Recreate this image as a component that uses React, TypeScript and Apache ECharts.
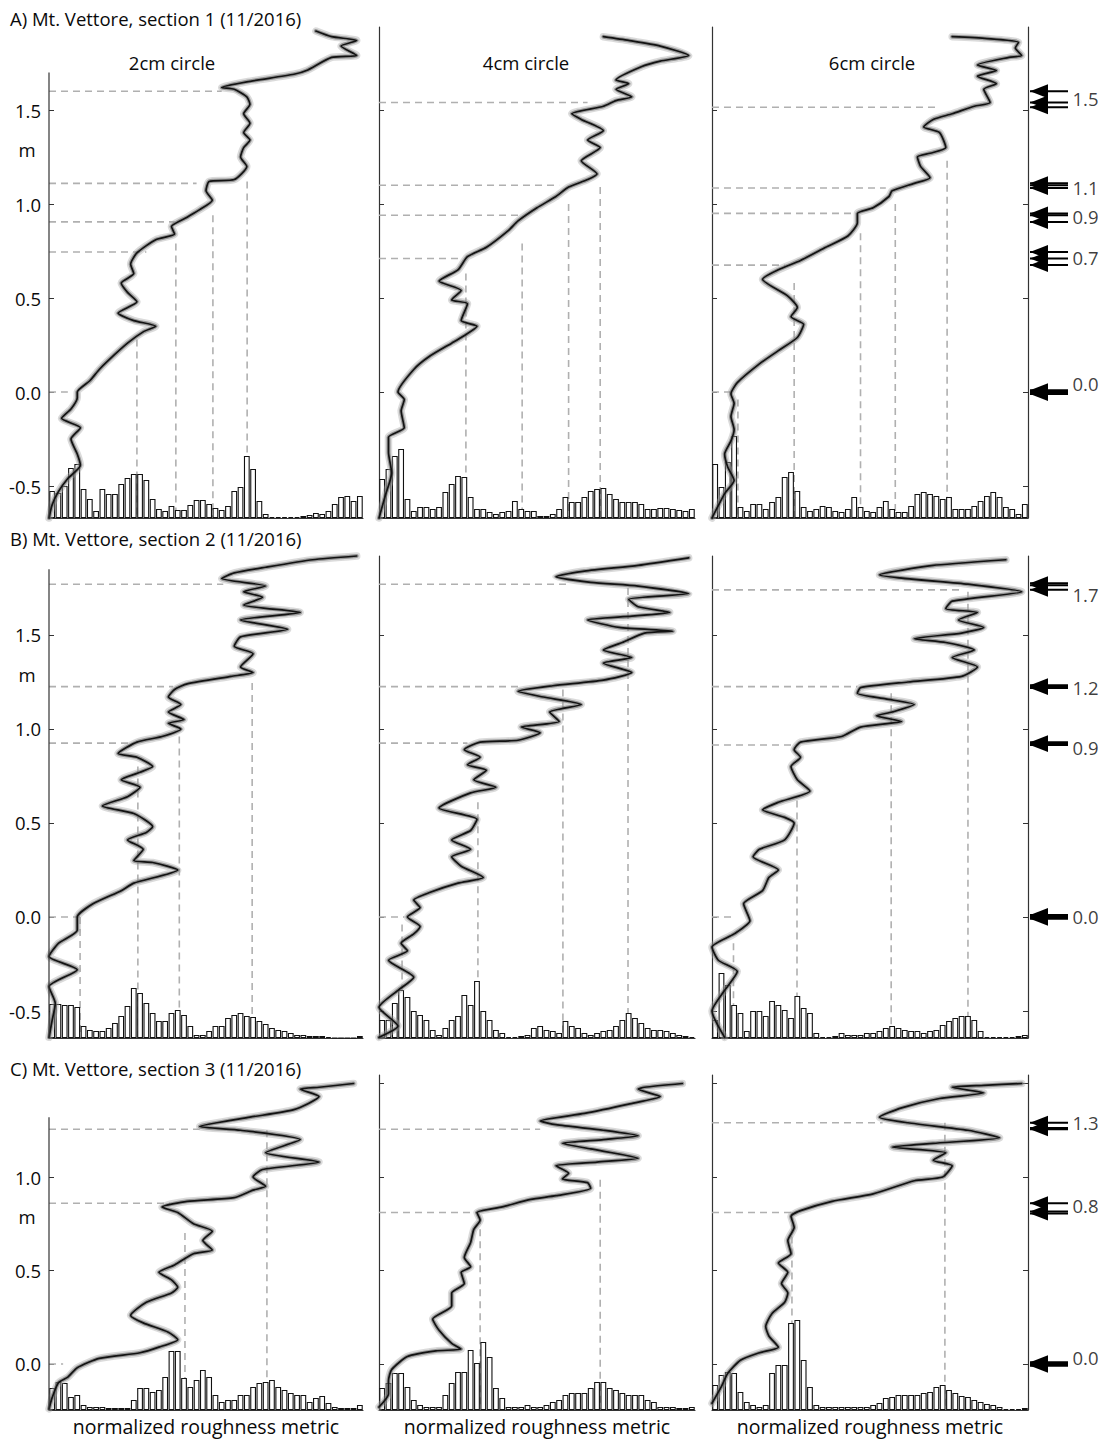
import React, { useEffect, useRef } from "react";
import * as echarts from "echarts";

// ---------- texts ----------
const ROW_TITLES = [
  "A) Mt. Vettore, section 1 (11/2016)",
  "B) Mt. Vettore, section 2 (11/2016)",
  "C) Mt. Vettore, section 3 (11/2016)",
];
const CIRCLE_TITLES = ["2cm circle", "4cm circle", "6cm circle"];
const X_LABEL = "normalized roughness metric";
const Y_UNIT = "m";

// ---------- axes ----------
const ROW_Y_RANGE = [
  [-0.67, 1.9415],
  [-0.6436, 1.92],
  [-0.246, 1.5455],
];
const ROW_TICKS = [
  [-0.5, 0, 0.5, 1, 1.5],
  [-0.5, 0, 0.5, 1, 1.5],
  [0, 0.5, 1, 1.5],
];
const COL1_AXIS_TOP = [1.7, 1.85, 1.32];
const COL1_LABELS = [
  [-0.5, 0, 0.5, 1, 1.5],
  [-0.5, 0, 0.5, 1, 1.5],
  [0, 0.5, 1],
];
const UNIT_AT = [1.29, 1.29, 0.79];

// ---------- curves: [roughness, height m] ----------
const CURVE_A1 = [[0.00,-0.67],[0.01,-0.60],[0.03,-0.53],[0.06,-0.46],[0.10,-0.39],[0.09,-0.33],[0.07,-0.25],[0.10,-0.19],[0.04,-0.14],[0.07,-0.09],[0.09,-0.03],[0.09,0.00],[0.13,0.06],[0.16,0.12],[0.19,0.17],[0.25,0.26],[0.30,0.32],[0.34,0.35],[0.27,0.38],[0.22,0.42],[0.28,0.48],[0.25,0.53],[0.23,0.58],[0.27,0.63],[0.26,0.68],[0.28,0.74],[0.34,0.81],[0.40,0.84],[0.39,0.88],[0.44,0.93],[0.48,0.97],[0.52,1.02],[0.50,1.07],[0.51,1.12],[0.59,1.13],[0.63,1.20],[0.61,1.25],[0.62,1.30],[0.64,1.34],[0.62,1.38],[0.64,1.43],[0.62,1.48],[0.64,1.53],[0.63,1.57],[0.59,1.61],[0.55,1.62],[0.63,1.65],[0.78,1.69],[0.82,1.71],[0.90,1.78],[0.98,1.79],[0.93,1.84],[0.98,1.87],[0.90,1.89],[0.85,1.92]];
const CURVE_A2 = [[0.00,-0.67],[0.02,-0.55],[0.04,-0.43],[0.03,-0.32],[0.03,-0.24],[0.08,-0.19],[0.07,-0.10],[0.08,-0.04],[0.06,0.00],[0.11,0.12],[0.16,0.19],[0.23,0.26],[0.26,0.29],[0.31,0.35],[0.26,0.38],[0.28,0.47],[0.23,0.49],[0.26,0.54],[0.19,0.59],[0.25,0.65],[0.28,0.72],[0.34,0.77],[0.41,0.86],[0.44,0.91],[0.50,0.98],[0.56,1.04],[0.60,1.09],[0.66,1.13],[0.69,1.16],[0.64,1.23],[0.70,1.30],[0.66,1.34],[0.71,1.39],[0.64,1.45],[0.61,1.48],[0.71,1.52],[0.75,1.55],[0.80,1.57],[0.75,1.61],[0.79,1.64],[0.75,1.66],[0.83,1.73],[0.89,1.76],[0.98,1.79],[0.89,1.84],[0.79,1.87],[0.71,1.89]];
const CURVE_A3 = [[0.00,-0.67],[0.04,-0.54],[0.07,-0.47],[0.05,-0.40],[0.04,-0.33],[0.06,-0.26],[0.07,-0.20],[0.06,-0.13],[0.07,-0.06],[0.06,-0.01],[0.08,0.05],[0.15,0.15],[0.21,0.22],[0.27,0.29],[0.29,0.36],[0.25,0.40],[0.27,0.45],[0.24,0.51],[0.16,0.60],[0.21,0.65],[0.28,0.70],[0.36,0.77],[0.43,0.83],[0.46,0.90],[0.46,0.95],[0.51,0.98],[0.56,1.04],[0.57,1.07],[0.64,1.11],[0.69,1.14],[0.66,1.20],[0.65,1.25],[0.69,1.27],[0.74,1.30],[0.72,1.38],[0.67,1.41],[0.70,1.45],[0.76,1.48],[0.83,1.52],[0.88,1.54],[0.86,1.61],[0.90,1.64],[0.84,1.68],[0.90,1.71],[0.84,1.74],[0.94,1.78],[0.98,1.79],[0.96,1.83],[0.97,1.86],[0.87,1.88],[0.76,1.89]];
const CURVE_B1 = [[0.00,-0.64],[0.01,-0.55],[0.02,-0.46],[0.00,-0.37],[0.09,-0.28],[0.00,-0.21],[0.03,-0.14],[0.09,-0.07],[0.09,0.00],[0.14,0.07],[0.23,0.14],[0.27,0.18],[0.41,0.25],[0.33,0.29],[0.27,0.30],[0.30,0.36],[0.25,0.41],[0.31,0.45],[0.33,0.48],[0.27,0.55],[0.17,0.59],[0.25,0.64],[0.29,0.69],[0.23,0.73],[0.29,0.77],[0.33,0.80],[0.28,0.85],[0.22,0.87],[0.28,0.93],[0.36,0.96],[0.42,1.00],[0.38,1.03],[0.43,1.05],[0.38,1.09],[0.42,1.13],[0.38,1.17],[0.40,1.21],[0.44,1.24],[0.58,1.28],[0.65,1.30],[0.61,1.33],[0.65,1.40],[0.59,1.44],[0.61,1.49],[0.76,1.53],[0.61,1.58],[0.80,1.62],[0.62,1.66],[0.68,1.70],[0.62,1.73],[0.69,1.76],[0.55,1.80],[0.59,1.83],[0.69,1.86],[0.84,1.90],[0.98,1.92]];
const CURVE_B2 = [[0.00,-0.64],[0.06,-0.58],[0.00,-0.48],[0.06,-0.39],[0.11,-0.32],[0.03,-0.23],[0.09,-0.18],[0.07,-0.14],[0.11,-0.09],[0.13,-0.05],[0.09,0.00],[0.13,0.05],[0.11,0.09],[0.16,0.13],[0.25,0.18],[0.33,0.21],[0.26,0.27],[0.23,0.32],[0.29,0.36],[0.23,0.41],[0.29,0.46],[0.31,0.52],[0.19,0.58],[0.29,0.66],[0.37,0.69],[0.30,0.73],[0.34,0.78],[0.28,0.81],[0.32,0.85],[0.27,0.89],[0.32,0.93],[0.44,0.94],[0.51,0.98],[0.45,1.01],[0.57,1.04],[0.54,1.09],[0.64,1.13],[0.52,1.17],[0.44,1.20],[0.55,1.23],[0.71,1.26],[0.80,1.30],[0.71,1.35],[0.80,1.38],[0.71,1.42],[0.77,1.46],[0.84,1.51],[0.93,1.52],[0.76,1.54],[0.66,1.58],[0.80,1.60],[0.92,1.62],[0.82,1.65],[0.79,1.69],[0.98,1.72],[0.82,1.76],[0.67,1.78],[0.56,1.81],[0.65,1.84],[0.82,1.87],[0.98,1.91]];
const CURVE_B3 = [[0.04,-0.64],[0.00,-0.50],[0.04,-0.39],[0.08,-0.29],[0.02,-0.23],[0.00,-0.16],[0.07,-0.09],[0.12,-0.02],[0.10,0.07],[0.16,0.14],[0.18,0.21],[0.21,0.25],[0.13,0.32],[0.15,0.36],[0.23,0.41],[0.26,0.50],[0.23,0.53],[0.16,0.57],[0.21,0.61],[0.31,0.67],[0.27,0.73],[0.25,0.80],[0.28,0.85],[0.26,0.89],[0.28,0.93],[0.41,0.96],[0.47,1.01],[0.60,1.04],[0.52,1.07],[0.57,1.09],[0.64,1.13],[0.55,1.16],[0.46,1.19],[0.47,1.22],[0.62,1.25],[0.79,1.28],[0.84,1.33],[0.76,1.38],[0.83,1.42],[0.74,1.46],[0.64,1.48],[0.79,1.51],[0.86,1.54],[0.78,1.58],[0.84,1.62],[0.74,1.64],[0.76,1.68],[0.98,1.73],[0.81,1.77],[0.53,1.82],[0.70,1.87],[0.93,1.90]];
const CURVE_C1 = [[0.00,-0.24],[0.01,-0.18],[0.03,-0.10],[0.06,-0.07],[0.09,-0.02],[0.16,0.03],[0.29,0.06],[0.35,0.09],[0.41,0.13],[0.38,0.17],[0.30,0.22],[0.26,0.26],[0.31,0.33],[0.39,0.38],[0.41,0.41],[0.39,0.45],[0.35,0.49],[0.40,0.53],[0.46,0.59],[0.52,0.61],[0.49,0.66],[0.52,0.71],[0.46,0.75],[0.41,0.81],[0.36,0.84],[0.44,0.87],[0.59,0.89],[0.65,0.93],[0.69,0.95],[0.65,1.00],[0.68,1.04],[0.86,1.08],[0.69,1.13],[0.80,1.20],[0.61,1.25],[0.48,1.27],[0.64,1.32],[0.78,1.36],[0.86,1.43],[0.80,1.47],[0.86,1.48],[0.97,1.50]];
const CURVE_C2 = [[0.00,-0.23],[0.03,-0.16],[0.03,-0.09],[0.04,-0.03],[0.09,0.04],[0.18,0.07],[0.26,0.08],[0.23,0.11],[0.19,0.18],[0.17,0.24],[0.23,0.31],[0.23,0.38],[0.27,0.43],[0.26,0.49],[0.29,0.52],[0.27,0.57],[0.29,0.65],[0.30,0.72],[0.32,0.77],[0.31,0.81],[0.39,0.84],[0.48,0.88],[0.56,0.90],[0.67,0.94],[0.66,0.97],[0.58,0.99],[0.60,1.02],[0.56,1.06],[0.69,1.08],[0.82,1.10],[0.67,1.15],[0.58,1.18],[0.71,1.20],[0.82,1.22],[0.71,1.25],[0.56,1.28],[0.51,1.30],[0.65,1.34],[0.79,1.39],[0.89,1.43],[0.82,1.47],[0.84,1.48],[0.96,1.50]];
const CURVE_C3 = [[0.00,-0.21],[0.03,-0.12],[0.05,-0.05],[0.09,0.02],[0.15,0.06],[0.21,0.09],[0.18,0.15],[0.17,0.20],[0.19,0.27],[0.23,0.33],[0.24,0.38],[0.22,0.43],[0.24,0.49],[0.21,0.54],[0.25,0.59],[0.24,0.66],[0.26,0.73],[0.25,0.79],[0.28,0.82],[0.38,0.87],[0.51,0.91],[0.64,0.98],[0.73,1.00],[0.76,1.06],[0.70,1.09],[0.74,1.13],[0.57,1.16],[0.70,1.18],[0.91,1.21],[0.81,1.25],[0.62,1.29],[0.53,1.32],[0.60,1.37],[0.72,1.42],[0.86,1.45],[0.76,1.48],[0.86,1.49],[0.98,1.50]];

// ---------- histograms (50 bins, relative frequency) ----------
const HIST_A1 = [27,25,32,50,54,29,19,7,29,24,24,34,40,44,44,38,19,9,7,12,8,8,13,18,18,14,10,8,12,27,31,62,49,17,4,1,1,1,1,1,2,3,5,4,7,14,21,22,17,22];
const HIST_A2 = [39,49,62,69,19,7,11,11,9,11,26,34,42,41,21,9,9,6,4,6,7,17,9,7,7,2,2,4,9,21,16,16,21,27,29,30,24,19,16,16,16,14,9,9,10,10,9,8,7,9];
const HIST_A3 = [54,31,56,82,11,7,14,14,9,16,21,41,46,27,11,7,9,12,11,7,6,9,21,11,7,6,11,17,9,6,6,12,24,26,24,22,19,21,9,9,9,12,17,22,26,21,11,9,4,14];
const HIST_B1 = [34,34,33,33,31,12,8,7,7,10,15,22,32,50,45,35,25,17,17,25,28,23,12,3,3,7,12,12,20,23,25,22,21,17,14,10,8,7,5,3,3,2,2,2,1,0,0,0,0,2];
const HIST_B2 = [18,18,35,48,41,27,23,18,8,3,10,18,22,43,33,57,27,18,8,5,1,1,2,3,10,12,8,7,5,17,12,10,5,3,5,7,8,12,18,25,20,15,10,8,8,7,5,3,2,1];
const HIST_B3 = [18,65,53,33,25,7,27,27,22,37,33,28,20,42,30,25,5,1,1,2,5,3,3,3,5,5,7,10,12,10,8,7,7,5,7,8,13,17,20,22,22,18,7,1,1,1,1,1,2,3];
const HIST_C1 = [22,28,27,13,15,5,3,3,3,2,2,2,2,10,22,22,18,20,33,59,59,32,23,30,40,33,15,8,10,10,15,15,23,27,28,30,23,20,17,15,15,8,12,14,7,3,2,2,2,5];
const HIST_C2 = [22,27,37,37,23,10,5,3,3,3,15,27,38,38,60,47,68,53,22,12,3,3,3,5,3,3,5,8,10,15,17,17,17,22,28,28,22,20,17,15,15,15,10,8,3,3,3,2,2,3];
const HIST_C3 = [25,35,38,37,18,8,5,3,5,37,45,45,87,90,50,23,5,3,3,3,3,3,3,3,3,5,7,12,13,15,15,15,15,17,18,23,25,20,17,14,13,10,8,6,5,3,1,1,1,2];

// ---------- dashed guides: horizontal [height, roughness end], vertical [roughness, height top] ----------
const HLINES_A1 = [[1.60,0.55],[1.11,0.47],[0.905,0.40],[0.745,0.31],[0.0,0.06]];
const VLINES_A1 = [[0.28,0.28],[0.404,0.79],[0.522,0.94],[0.631,1.12]];
const HLINES_A2 = [[1.54,0.66],[1.10,0.57],[0.94,0.45],[0.71,0.25]];
const VLINES_A2 = [[0.275,0.63],[0.453,0.79],[0.60,1.0],[0.70,1.09]];
const HLINES_A3 = [[1.515,0.72],[1.085,0.55],[0.95,0.45],[0.675,0.23],[0.0,0.06]];
const VLINES_A3 = [[0.082,-0.04],[0.26,0.58],[0.47,0.845],[0.58,1.0],[0.744,1.23]];
const HLINES_B1 = [[1.77,0.555],[1.225,0.395],[0.925,0.27],[0.0,0.10]];
const VLINES_B1 = [[0.099,0.0],[0.283,0.80],[0.415,0.96],[0.647,1.245]];
const HLINES_B2 = [[1.77,0.60],[1.225,0.45],[0.925,0.28],[0.0,0.08]];
const VLINES_B2 = [[0.073,-0.04],[0.313,0.61],[0.582,1.21],[0.788,1.75]];
const HLINES_B3 = [[1.74,0.785],[1.225,0.46],[0.915,0.27],[0.0,0.07]];
const VLINES_B3 = [[0.068,-0.14],[0.269,0.62],[0.567,1.19],[0.81,1.73]];
const HLINES_C1 = [[1.255,0.48],[0.86,0.385],[0.0,0.045]];
const VLINES_C1 = [[0.433,0.70],[0.694,1.25]];
const HLINES_C2 = [[1.255,0.51],[0.81,0.31]];
const VLINES_C2 = [[0.32,0.785],[0.70,0.985]];
const HLINES_C3 = [[1.29,0.54],[0.81,0.25]];
const VLINES_C3 = [[0.253,0.81],[0.737,1.29]];

// ---------- arrows at right: label, label height, arrow heights ----------
const ARROWS_A = [
  { label: "1.5", at: 1.56, ys: [1.60, 1.54, 1.515] },
  { label: "1.1", at: 1.09, ys: [1.11, 1.10, 1.085] },
  { label: "0.9", at: 0.936, ys: [0.905, 0.94, 0.95] },
  { label: "0.7", at: 0.718, ys: [0.745, 0.71, 0.675] },
  { label: "0.0", at: 0.048, ys: [0.01, 0.0, -0.01] },
];
const ARROWS_B = [
  { label: "1.7", at: 1.713, ys: [1.775, 1.765, 1.74] },
  { label: "1.2", at: 1.223, ys: [1.232, 1.225, 1.218] },
  { label: "0.9", at: 0.899, ys: [0.93, 0.922, 0.915] },
  { label: "0.0", at: 0.0, ys: [0.01, 0.0, -0.01] },
];
const ARROWS_C = [
  { label: "1.3", at: 1.294, ys: [1.262, 1.255, 1.29] },
  { label: "0.8", at: 0.85, ys: [0.86, 0.815, 0.805] },
  { label: "0.0", at: 0.037, ys: [0.01, 0.0, -0.01] },
];

const CURVES = [CURVE_A1, CURVE_A2, CURVE_A3, CURVE_B1, CURVE_B2, CURVE_B3, CURVE_C1, CURVE_C2, CURVE_C3];
const HISTS = [HIST_A1, HIST_A2, HIST_A3, HIST_B1, HIST_B2, HIST_B3, HIST_C1, HIST_C2, HIST_C3];
const HLINES = [HLINES_A1, HLINES_A2, HLINES_A3, HLINES_B1, HLINES_B2, HLINES_B3, HLINES_C1, HLINES_C2, HLINES_C3];
const VLINES = [VLINES_A1, VLINES_A2, VLINES_A3, VLINES_B1, VLINES_B2, VLINES_B3, VLINES_C1, VLINES_C2, VLINES_C3];
const ARROWS = [ARROWS_A, ARROWS_B, ARROWS_C];
const BINS = HIST_A1.map((_, i) => String(i));

// ---------- layout ----------
const ROW_BOX = [
  { top: 27, height: 491 },
  { top: 556, height: 482 },
  { top: 1075, height: 335 },
];
const COL_BOX = [
  { left: 49, width: 314 },
  { left: 379, width: 316 },
  { left: 712, width: 316 },
];
const ROW_TITLE_Y = [18, 538, 1068];
const FONT = "'Open Sans', 'Noto Sans', sans-serif";
const AXIS_COLOR = "#333333";
const DASH_COLOR = "#b0b0b0";
const TEXT_COLOR = "#0a0a0a";
const ARROW_HEAD = "path://M0,7L18,0L18,14Z";

function buildOption() {
  const grid: any[] = [];
  const xAxis: any[] = [];
  const yAxis: any[] = [];
  const series: any[] = [];
  const graphic: any[] = [];

  for (let r = 0; r < 3; r++) {
    for (let c = 0; c < 3; c++) {
      const p = r * 3 + c;
      const [ymin, ymax] = ROW_Y_RANGE[r];
      grid.push({ left: COL_BOX[c].left, top: ROW_BOX[r].top, width: COL_BOX[c].width, height: ROW_BOX[r].height });
      xAxis.push({
        type: "value", gridIndex: p, min: 0, max: 1,
        axisLine: { show: true, onZero: false, lineStyle: { color: AXIS_COLOR, width: 1.2 } },
        axisTick: { show: false }, axisLabel: { show: false }, splitLine: { show: false },
        name: r === 2 ? X_LABEL : "", nameLocation: "middle", nameGap: 6,
        nameTextStyle: { fontSize: 19.5, color: TEXT_COLOR, fontFamily: FONT, verticalAlign: "top" },
      });
      xAxis.push({ type: "category", gridIndex: p, data: BINS, show: false, boundaryGap: true });
      const tickVals = ROW_TICKS[r].filter((v) => c !== 0 || v <= COL1_AXIS_TOP[r]);
      yAxis.push({
        type: "value", gridIndex: p, min: ymin, max: ymax, position: "left",
        axisLine: { show: c !== 0, onZero: false, lineStyle: { color: AXIS_COLOR, width: 1.2 } },
        axisTick: { show: true, inside: true, length: 5, customValues: tickVals, lineStyle: { color: AXIS_COLOR } },
        axisLabel: {
          show: c === 0, customValues: COL1_LABELS[r], margin: 8,
          formatter: (v: number) => v.toFixed(1), fontSize: 18.5, color: TEXT_COLOR, fontFamily: FONT,
        },
        splitLine: { show: false },
      });
      yAxis.push({ type: "value", gridIndex: p, min: 0, max: ROW_BOX[r].height, show: false });

      // dashed guides
      HLINES[p].forEach(([h, xe]) => {
        series.push({
          type: "line", xAxisIndex: 2 * p, yAxisIndex: 2 * p, data: [[0, h], [xe, h]],
          symbol: "none", silent: true, z: 1,
          lineStyle: { color: DASH_COLOR, width: 1.6, type: [7, 5] },
        });
      });
      VLINES[p].forEach(([x, yt]) => {
        series.push({
          type: "line", xAxisIndex: 2 * p, yAxisIndex: 2 * p, data: [[x, yt], [x, ymin]],
          symbol: "none", silent: true, z: 1,
          lineStyle: { color: DASH_COLOR, width: 1.6, type: [7, 5] },
        });
      });
      // histogram
      series.push({
        type: "bar", xAxisIndex: 2 * p + 1, yAxisIndex: 2 * p + 1, data: HISTS[p],
        barCategoryGap: "8%", silent: true, z: 2,
        itemStyle: { color: "#ffffff", borderColor: "#111", borderWidth: 1.1 },
      });
      // curve bundle
      const bundle = [
        { w: 7.5, col: "rgba(165,165,165,0.4)", z: 3 },
        { w: 4, col: "rgba(95,95,95,0.55)", z: 4 },
        { w: 1.7, col: "#121212", z: 5 },
      ];
      bundle.forEach((b) => {
        series.push({
          type: "line", xAxisIndex: 2 * p, yAxisIndex: 2 * p, data: CURVES[p],
          symbol: "none", smooth: 0.2, silent: true, z: b.z, clip: false,
          lineStyle: { color: b.col, width: b.w, cap: "round", join: "round" },
        });
      });
      // partial left axis for first column
      if (c === 0) {
        series.push({
          type: "line", xAxisIndex: 2 * p, yAxisIndex: 2 * p,
          data: [[0, COL1_AXIS_TOP[r]], [0, ymin]],
          symbol: "none", silent: true, z: 6, clip: false,
          lineStyle: { color: AXIS_COLOR, width: 1.2 },
        });
      }
    }
  }

  // right axes on third column (yAxis 18..20)
  for (let r = 0; r < 3; r++) {
    const [ymin, ymax] = ROW_Y_RANGE[r];
    yAxis.push({
      type: "value", gridIndex: r * 3 + 2, min: ymin, max: ymax, position: "right",
      axisLine: { show: true, onZero: false, lineStyle: { color: AXIS_COLOR, width: 1.2 } },
      axisTick: { show: true, inside: true, length: 5, customValues: ROW_TICKS[r], lineStyle: { color: AXIS_COLOR } },
      axisLabel: { show: false }, splitLine: { show: false },
    });
  }

  // arrow grids (grid 9..11, xAxis 18..20, yAxis 21..23)
  for (let r = 0; r < 3; r++) {
    const [ymin, ymax] = ROW_Y_RANGE[r];
    grid.push({ left: 1030, top: ROW_BOX[r].top, width: 38, height: ROW_BOX[r].height });
    xAxis.push({ type: "value", gridIndex: 9 + r, min: 0, max: 1, show: false });
    yAxis.push({ type: "value", gridIndex: 9 + r, min: ymin, max: ymax, show: false });
    ARROWS[r].forEach((g) => {
      g.ys.forEach((y) => {
        series.push({
          type: "line", xAxisIndex: 18 + r, yAxisIndex: 21 + r, silent: true, z: 5, clip: false,
          showSymbol: true,
          data: [
            { value: [0, y], symbol: ARROW_HEAD, symbolSize: [18, 14], symbolOffset: [9, 0] },
            { value: [1, y], symbol: "none" },
          ],
          lineStyle: { color: "#000", width: 2 },
          itemStyle: { color: "#000", borderWidth: 0 },
        });
      });
    });
    series.push({
      type: "scatter", xAxisIndex: 18 + r, yAxisIndex: 21 + r, silent: true, z: 6,
      symbolSize: 1, itemStyle: { color: "rgba(0,0,0,0)" },
      data: ARROWS[r].map((g) => ({ name: g.label, value: [1, g.at] })),
      label: { show: true, position: "right", distance: 4, formatter: "{b}", fontSize: 18.5, color: TEXT_COLOR, fontFamily: FONT },
    });
  }

  // texts
  ROW_TITLES.forEach((t, r) => {
    graphic.push({
      type: "text", x: 10, y: ROW_TITLE_Y[r], z: 10,
      style: { text: t, fill: TEXT_COLOR, font: `18.5px ${FONT}`, textAlign: "left", textVerticalAlign: "middle" },
    });
  });
  CIRCLE_TITLES.forEach((t, c) => {
    graphic.push({
      type: "text", x: [172, 526, 872][c], y: 62, z: 10,
      style: { text: t, fill: TEXT_COLOR, font: `18.5px ${FONT}`, textAlign: "center", textVerticalAlign: "middle" },
    });
  });

  return {
    animation: false,
    backgroundColor: "#ffffff",
    textStyle: { fontFamily: FONT },
    grid, xAxis, yAxis, series, graphic,
  };
}

export default function App() {
  const ref = useRef<HTMLDivElement>(null);
  useEffect(() => {
    const chart = echarts.init(ref.current!, null, { renderer: "svg" });
    const opt: any = buildOption();
    chart.setOption(opt);
    // unit labels "m" placed at the axis height through the first-column scales
    const extra: any[] = [];
    for (let r = 0; r < 3; r++) {
      const pt = chart.convertToPixel({ gridIndex: r * 3 } as any, [0, UNIT_AT[r]]) as number[];
      extra.push({
        type: "text", x: 27, y: pt[1], z: 10,
        style: { text: Y_UNIT, fill: TEXT_COLOR, font: `18.5px ${FONT}`, textAlign: "center", textVerticalAlign: "middle" },
      });
    }
    chart.setOption({ graphic: [...opt.graphic, ...extra] });
    return () => chart.dispose();
  }, []);
  return (
    <div
      ref={ref}
      style={{ position: "absolute", left: 0, top: 0, width: 1106, height: 1441, background: "#fff" }}
    />
  );
}
